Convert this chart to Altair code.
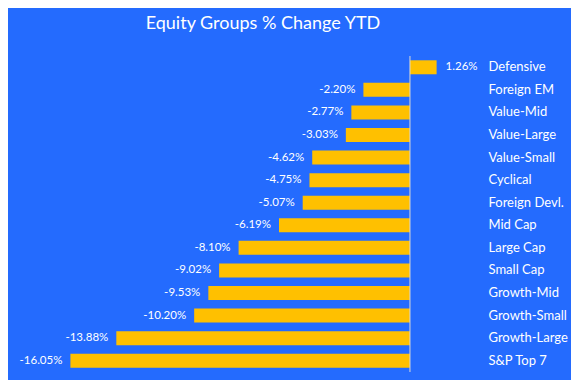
import altair as alt
import pandas as pd

categories = ["Defensive", "Foreign EM", "Value-Mid", "Value-Large", "Value-Small",
              "Cyclical", "Foreign Devl.", "Mid Cap", "Large Cap", "Small Cap",
              "Growth-Mid", "Growth-Small", "Growth-Large", "S&P Top 7"]
values = [1.26, -2.20, -2.77, -3.03, -4.62, -4.75, -5.07, -6.19, -8.10, -9.02,
          -9.53, -10.20, -13.88, -16.05]

df = pd.DataFrame({"category": categories, "value": values})

BG = "#246BFE"
BAR = "#FFC000"
FONT = "Lato"

base = alt.Chart(df).transform_calculate(
    label="(datum.value < 0 ? '-' : '') + format(abs(datum.value), '.2f') + '%'"
)

y_enc = alt.Y("category:N", sort=categories, title=None,
              scale=alt.Scale(paddingInner=0.38, paddingOuter=0.19),
              axis=alt.Axis(orient="right", domain=False, ticks=False, grid=False,
                            labelColor="white", labelFont=FONT, labelFontSize=13,
                            labelPadding=4, labelAlign="left",
                            minExtent=87, maxExtent=87))
x_enc = alt.X("value:Q", title=None, axis=None,
              scale=alt.Scale(domain=[-19, 3.5], nice=False, zero=False))

bars = base.mark_bar(color=BAR).encode(x=x_enc, y=y_enc)

neg = base.transform_filter("datum.value < 0").mark_text(
    align="right", baseline="middle", dx=-8, color="white", font=FONT, fontSize=11.5
).encode(x=x_enc, y=y_enc, text="label:N")

pos = base.transform_filter("datum.value >= 0").mark_text(
    align="left", baseline="middle", dx=9, color="white", font=FONT, fontSize=11.5
).encode(x=x_enc, y=y_enc, text="label:N")

zero = alt.Chart(pd.DataFrame({"z": [0]})).mark_rule(color="#D9D9D9", strokeWidth=1).encode(
    x=alt.X("z:Q", scale=alt.Scale(domain=[-19, 3.5], nice=False, zero=False), axis=None)
)

chart = alt.layer(bars, zero, neg, pos).properties(
    width=476, height=316,
    background=BG,
    padding={"top": 6, "bottom": 7, "left": 0, "right": 0},
    title=alt.TitleParams("Equity Groups % Change YTD", color="white", font=FONT,
                          fontSize=18, fontWeight="normal", anchor="middle",
                          offset=23, dx=17),
).configure_view(stroke=None)

chart.save("out.html", embed_options={"renderer": "svg", "actions": False})
